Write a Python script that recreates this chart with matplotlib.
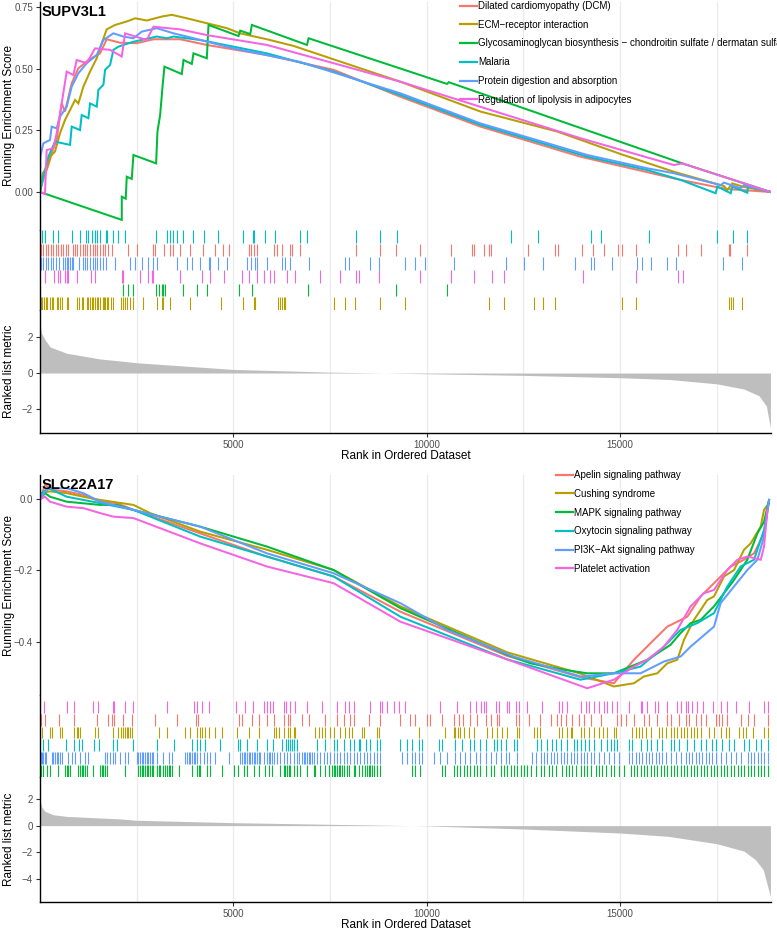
import matplotlib
matplotlib.use("Agg")
import matplotlib.pyplot as plt
from matplotlib.lines import Line2D

plt.rcParams['font.family'] = ['Liberation Sans', 'DejaVu Sans']

N_GENES = 18900
PAL = ["#F8766D", "#B79F00", "#00BA38", "#00BFC4", "#619CFF", "#F564E3"]

# ---------------------------------------------------------------
# SUPV3L1 : running enrichment scores (rank, ES vertices)

top_names = ["Dilated cardiomyopathy (DCM)", "ECM\u2212receptor interaction",
             "Glycosaminoglycan biosynthesis \u2212 chondroitin sulfate / dermatan sulfate",
             "Malaria", "Protein digestion and absorption",
             "Regulation of lipolysis in adipocytes"]

dcm_rank = [0, 69, 216, 345, 431, 561, 647, 820, 992, 1251, 1553, 1725, 2071, 2502, 2933,
            3623, 4313, 5866, 7592, 9317, 11387, 13975, 16563, 17426, 17771, 18893]
dcm_es = [0, 0.042, 0.109, 0.177, 0.211, 0.359, 0.326, 0.441, 0.501, 0.535, 0.562, 0.619,
          0.605, 0.603, 0.619, 0.619, 0.596, 0.555, 0.495, 0.386, 0.265, 0.143, 0.049,
          0.022, 0.012, 0]

ecm_rank = [0, 69, 173, 259, 388, 518, 647, 776, 906, 992, 1122, 1294, 1467, 1596, 1725,
            1941, 2243, 2459, 2761, 3149, 3408, 3796, 4313, 4831, 5176, 5866, 6556, 9317,
            11387, 13371, 15010, 16390, 17685, 17771, 17900, 18159, 18893]
ecm_es = [0, 0.076, 0.096, 0.143, 0.164, 0.238, 0.292, 0.332, 0.373, 0.359, 0.427, 0.488,
          0.542, 0.603, 0.659, 0.677, 0.691, 0.704, 0.695, 0.711, 0.718, 0.704, 0.684,
          0.664, 0.643, 0.619, 0.592, 0.447, 0.326, 0.245, 0.154, 0.082, 0.024, 0.008,
          0.035, 0.022, 0]

glyco_rank = [0, 2114, 2114, 2217, 2243, 2372, 2416, 3002, 3037, 3106, 3175, 3218, 3666,
              3710, 3925, 3968, 4313, 4357, 5133, 5176, 5435, 5478, 6902, 6945, 10524,
              10568, 16606, 18893]
glyco_es = [0, -0.113, -0.019, -0.027, 0.062, 0.053, 0.15, 0.116, 0.245, 0.312, 0.44,
            0.508, 0.478, 0.535, 0.519, 0.562, 0.542, 0.677, 0.632, 0.654, 0.64, 0.677,
            0.596, 0.623, 0.438, 0.445, 0.116, 0]

malaria_rank = [0, 86, 216, 388, 776, 820, 1035, 1078, 1251, 1294, 1467, 1510, 1639, 1682,
                1812, 1898, 2027, 2157, 2416, 3020, 3278, 3451, 4141, 5866, 7592, 9317,
                11387, 14148, 15700, 16563, 17469, 17512, 17857, 17900, 18288, 18306, 18893]
malaria_es = [0, 0.062, 0.143, 0.204, 0.191, 0.265, 0.251, 0.312, 0.299, 0.359, 0.346,
              0.414, 0.434, 0.495, 0.515, 0.576, 0.589, 0.596, 0.609, 0.63, 0.623, 0.63,
              0.616, 0.562, 0.488, 0.393, 0.272, 0.143, 0.089, 0.049, -0.005, 0.022,
              -0.005, 0.022, -0.003, 0.022, 0]

protein_rank = [0, 9, 86, 259, 302, 431, 518, 690, 820, 992, 1208, 1467, 1639, 1898, 2157,
                2416, 2631, 3020, 3451, 3796, 5004, 6729, 9317, 11387, 14148, 15700, 16390,
                17598, 17685, 18116, 18202, 18893]
protein_es = [0, 0.143, 0.197, 0.211, 0.265, 0.258, 0.305, 0.346, 0.427, 0.481, 0.522,
              0.555, 0.616, 0.643, 0.63, 0.623, 0.65, 0.664, 0.643, 0.63, 0.582, 0.527,
              0.4, 0.278, 0.15, 0.096, 0.076, 0.028, 0.038, 0.015, 0.028, 0]

lipo_rank = [0, 129, 173, 345, 431, 561, 690, 863, 949, 1208, 1423, 1812, 2114, 2200, 2761,
             2933, 3623, 4313, 5866, 7592, 9317, 13975, 16390, 16606, 18893]
lipo_es = [0, -0.008, 0.17, 0.177, 0.238, 0.359, 0.488, 0.474, 0.535, 0.522, 0.582, 0.576,
           0.549, 0.643, 0.616, 0.67, 0.659, 0.636, 0.596, 0.522, 0.447, 0.218, 0.109,
           0.116, 0]

# SUPV3L1 : gene hit positions (rug)
malaria_hits = [43, 129, 345, 474, 820, 1035, 1191, 1251, 1337, 1423, 1467, 1553, 1708, 1743,
                1898, 2027, 2200, 3002, 3278, 3365, 3451, 3537, 3710, 3968, 4253, 4615, 5245,
                5504, 5538, 5823, 6082, 6729, 6902, 8178, 8782, 9231, 12189, 12871, 14234,
                14510, 15752, 17512, 17927, 18289]
dcm_hits = [17, 86, 155, 216, 276, 345, 414, 474, 535, 604, 673, 733, 845, 906, 966, 1035,
            1104, 1165, 1225, 1294, 1363, 1423, 1484, 1553, 1622, 1691, 1769, 1855, 2286,
            2502, 2933, 2976, 3209, 3365, 3451, 3623, 3882, 4227, 4529, 4728, 4874, 5392,
            5452, 5521, 5608, 6039, 6125, 6255, 6453, 6513, 6729, 8178, 8800, 9213, 9817,
            10628, 11171, 11232, 11491, 11603, 11672, 12621, 13311, 13397, 14001, 14294,
            14579, 14950, 15036, 15399, 16503, 16693, 17081, 17814, 17840, 18289]
protein_hits = [17, 69, 155, 216, 276, 345, 414, 500, 587, 647, 690, 733, 776, 820, 863, 1018,
                1104, 1165, 1225, 1294, 1363, 1423, 1484, 1553, 1639, 1708, 1941, 2329, 2459,
                2631, 2804, 2933, 3019, 3537, 3796, 3925, 4141, 4357, 4400, 4615, 4831, 5352,
                5452, 5564, 5608, 5866, 6255, 6341, 6470, 6945, 7894, 7980, 8541, 8756, 9446,
                9705, 9964, 10714, 12051, 12526, 13009, 13820, 14234, 14320, 14795, 15425,
                15554, 15787, 16218, 16434, 17667, 18159]
lipo_hits = [129, 362, 474, 518, 647, 690, 733, 949, 1311, 1423, 2114, 2157, 2588, 2804, 2890,
             2933, 3623, 4184, 4400, 4745, 5219, 5392, 5608, 5780, 5935, 6039, 6384, 6600,
             7247, 7764, 8178, 8239, 8756, 9817, 10628, 11232, 11689, 11991, 14044, 15399,
             16503, 16632]
glyco_hits = [2140, 2286, 2398, 3002, 3088, 3149, 3192, 3235, 3692, 4055, 4313, 5133, 5478,
              6919, 9213, 10524]
ecm_hits = [17, 60, 104, 147, 190, 259, 302, 345, 431, 474, 518, 561, 690, 733, 966, 1018,
            1078, 1122, 1208, 1251, 1294, 1337, 1380, 1423, 1467, 1510, 1553, 1622, 1656,
            1691, 1725, 1769, 1829, 1898, 2088, 2140, 2200, 2260, 2329, 2416, 2657, 3019,
            3149, 3192, 3365, 3882, 4684, 5245, 5521, 5564, 6142, 6211, 6255, 6298, 6341,
            7592, 7894, 8153, 8800, 9446, 11603, 12008, 12785, 13009, 13311, 15054, 15399,
            17814, 17857, 17918, 18159]

top_metric_rank = [0, 40, 130, 259, 690, 1553, 2070, 2500, 5000, 7500, 10000, 12500, 15000,
                   16280, 17500, 18200, 18590, 18780, 18885]
top_metric_val = [2.67, 2.2, 1.85, 1.45, 1.1, 0.78, 0.67, 0.57, 0.2, 0.05, -0.04, -0.13,
                  -0.26, -0.36, -0.6, -0.89, -1.26, -1.83, -3.05]

# ---------------------------------------------------------------
# SLC22A17

bot_names = ["Apelin signaling pathway", "Cushing syndrome", "MAPK signaling pathway",
             "Oxytocin signaling pathway", "PI3K\u2212Akt signaling pathway",
             "Platelet activation"]

apelin_rank = [0, 129, 345, 690, 1122, 1553, 1984, 2416, 4141, 5866, 7592, 9317, 12077,
               13975, 14838, 15356, 15873, 16218, 16736, 17081, 17426, 17857, 18202, 18461,
               18720, 18850]
apelin_es = [0, 0.04, 0.026, 0.022, 0.012, -0.007, -0.011, -0.03, -0.096, -0.161, -0.217,
             -0.316, -0.44, -0.5, -0.517, -0.451, -0.395, -0.358, -0.33, -0.273, -0.236,
             -0.189, -0.17, -0.152, -0.096, -0.002]

cushing_rank = [0, 259, 690, 1122, 1553, 2416, 2847, 4141, 5866, 7592, 9317, 12077, 13975,
                14838, 15356, 15614, 15960, 16218, 16477, 16650, 16908, 17254, 17426, 17685,
                17944, 18202, 18375, 18634, 18720, 18850]
cushing_es = [0.017, 0.022, 0.017, 0.007, -0.002, -0.016, -0.039, -0.091, -0.142, -0.199,
              -0.301, -0.43, -0.49, -0.526, -0.517, -0.498, -0.489, -0.461, -0.451, -0.395,
              -0.339, -0.283, -0.273, -0.217, -0.199, -0.142, -0.124, -0.077, -0.03, -0.011]

mapk_rank = [0, 129, 259, 690, 1553, 1984, 2416, 4141, 5866, 7592, 9317, 12077, 12681,
             13544, 14148, 14838, 15269, 15701, 15960, 16304, 16563, 16822, 17081, 17426,
             17685, 17944, 18288, 18548, 18720, 18850]
mapk_es = [0, 0.017, 0.007, -0.007, -0.016, -0.016, -0.03, -0.077, -0.133, -0.199, -0.306,
           -0.437, -0.461, -0.479, -0.489, -0.489, -0.47, -0.451, -0.433, -0.409, -0.376,
           -0.348, -0.339, -0.301, -0.264, -0.227, -0.17, -0.096, -0.063, -0.002]

oxy_rank = [0, 43, 216, 690, 1553, 2416, 4141, 5866, 7592, 9317, 12077, 13975, 14838,
            15528, 16046, 16563, 16995, 17426, 17771, 18116, 18461, 18720, 18850]
oxy_es = [0, 0.017, 0.031, 0.007, -0.011, -0.03, -0.105, -0.161, -0.217, -0.33, -0.45,
          -0.507, -0.489, -0.47, -0.423, -0.367, -0.348, -0.32, -0.245, -0.189, -0.17,
          -0.086, -0.002]

pi3k_rank = [0, 129, 259, 690, 1122, 1553, 2416, 4141, 5866, 7592, 9317, 10524, 12250,
             13113, 13975, 14838, 15528, 16132, 16563, 16822, 17426, 17598, 17944, 18288,
             18548, 18720, 18850]
pi3k_es = [0, 0.022, 0.031, 0.031, 0.017, -0.007, -0.03, -0.077, -0.152, -0.208, -0.292,
           -0.367, -0.442, -0.47, -0.498, -0.489, -0.489, -0.456, -0.442, -0.414, -0.358,
           -0.292, -0.245, -0.199, -0.17, -0.105, -0.002]

platelet_rank = [0, 129, 259, 690, 1122, 1553, 1898, 2416, 4141, 5866, 7592, 9317, 12077,
                 14148, 14838, 15356, 15701, 16132, 16477, 16822, 17168, 17426, 17771,
                 18030, 18288, 18634, 18720, 18806]
platelet_es = [0, 0.007, -0.007, -0.021, -0.025, -0.039, -0.049, -0.053, -0.124, -0.189,
               -0.236, -0.344, -0.45, -0.531, -0.507, -0.47, -0.451, -0.414, -0.367, -0.301,
               -0.264, -0.255, -0.199, -0.17, -0.161, -0.17, -0.133, -0.03]

platelet_hits = [104, 690, 880, 1381, 1510, 1881, 1916, 2200, 2399, 3279, 3987, 4056, 4186,
                 4358, 5074, 5307, 5506, 5782, 5868, 5937, 6024, 6300, 6369, 6455, 6602, 6904,
                 7292, 7681, 7896, 7983, 8112, 8544, 8785, 8846, 8975, 9148, 9277, 9447,
                 10353, 10785, 11113, 11260, 11406, 11475, 11544, 11777, 11864, 12079, 12123,
                 12295, 12381, 12597, 12968, 13417, 13503, 13633, 13978, 14107, 14194, 14323,
                 14453, 14582, 14668, 14798, 14927, 15229, 15531, 15575, 15704, 15894, 15980,
                 16204, 16480, 16567, 16696, 16757, 16869, 16999, 17154, 17413, 17620, 17775,
                 17991, 18336, 18725, 18811]
apelin_hits = [17, 129, 501, 880, 1467, 1769, 1855, 1916, 2158, 2373, 2977, 3538, 4039, 4073,
               5135, 5221, 5480, 5653, 5868, 6041, 6300, 6403, 6455, 6775, 6947, 7379, 7681,
               7853, 8009, 8112, 8501, 8803, 9318, 9577, 9706, 10008, 10095, 10397, 10699,
               10828, 10940, 11130, 11303, 11519, 11648, 11803, 11864, 12295, 12381, 12640,
               12925, 13201, 13374, 13460, 13590, 13762, 13935, 14064, 14254, 14496, 14927,
               15014, 15143, 15359, 15618, 15747, 15963, 16222, 16308, 16524, 16696, 16783,
               16955, 17085, 17214, 17473, 17559, 17646, 17775, 18120, 18293, 18466, 18811]
cushing_hits = [43, 259, 302, 518, 561, 880, 949, 992, 1036, 1424, 1510, 1899, 2028, 2088,
                2140, 2201, 2244, 2287, 2330, 2373, 3064, 3279, 3754, 3884, 4056, 4142, 4186,
                4272, 4358, 4531, 4703, 5092, 5394, 5653, 6058, 6110, 6170, 6300, 6403, 6455,
                6559, 6602, 7120, 7206, 7292, 7379, 7508, 7594, 7767, 7896, 7983, 8069, 8328,
                8371, 8716, 8760, 9792, 10483, 10699, 10742, 10802, 10871, 10958, 11087,
                11216, 11562, 11691, 11821, 11950, 12079, 12338, 12381, 12770, 12839, 12925,
                13417, 13503, 13633, 13719, 13762, 13978, 14064, 14194, 14323, 14453, 14565,
                14668, 14841, 14884, 15316, 15402, 15488, 15575, 15661, 15790, 16006, 16092,
                16179, 16308, 16394, 16481, 16567, 16653, 16740, 16826, 16912, 16999, 17085,
                17301, 17430, 17603, 17732, 17818, 18077, 18164, 18250, 18422, 18725, 18811]
oxy_hits = [86, 216, 673, 880, 1018, 1079, 1398, 1536, 1899, 1985, 2416, 3021, 3452, 3927,
            4056, 4142, 4272, 4660, 5109, 5178, 5351, 5610, 5868, 6024, 6257, 6369, 6403, 6455,
            6516, 6559, 6645, 7163, 7379, 7594, 7681, 7853, 8026, 8112, 8242, 8285, 8440, 8544,
            8716, 8803, 9318, 9490, 9620, 9792, 9879, 10310, 10397, 10742, 10914, 11130, 11216,
            11389, 11519, 11734, 11821, 11907, 12036, 12252, 12338, 12856, 12942, 13115, 13244,
            13331, 13460, 13633, 13805, 13892, 13978, 14082, 14194, 14323, 14496, 14668, 14755,
            14841, 14927, 15229, 15316, 15531, 15704, 15790, 15963, 16092, 16308, 16394, 16524,
            16740, 16912, 17085, 17214, 17387, 17473, 17646, 17818, 17948, 18207, 18336, 18509,
            18638, 18811]
pi3k_hits = [5, 30, 60, 90, 120, 150, 302, 345, 388, 431, 474, 518, 561, 733, 820, 906, 1036,
             1165, 1251, 1683, 1743, 1812, 1899, 1942, 2071, 2201, 2287, 2503, 2546, 2589,
             2632, 2675, 2718, 2761, 2805, 2848, 2891, 2934, 3020, 3193, 3323, 3409, 3754,
             3797, 3840, 3884, 3927, 3970, 4013, 4056, 4142, 4229, 4315, 4401, 4531, 4876,
             5178, 5221, 5264, 5307, 5351, 5394, 5437, 5480, 5523, 5567, 5610, 5653, 5696,
             5782, 5868, 5912, 5955, 5998, 6041, 6127, 6214, 6300, 6386, 6473, 6559, 6645,
             6688, 6775, 6818, 6861, 6904, 6947, 6990, 7033, 7077, 7163, 7249, 7336, 7422,
             7508, 7594, 7681, 7767, 7853, 7940, 8026, 8112, 8199, 8285, 8371, 8457, 8544,
             8630, 8716, 8803, 9361, 9490, 9620, 9706, 9792, 9879, 10181, 10353, 10526, 10742,
             10871, 11001, 11130, 11260, 11389, 11519, 11648, 11777, 11907, 12036, 12123,
             12338, 12727, 12813, 12942, 13029, 13115, 13201, 13288, 13374, 13460, 13547,
             13633, 13719, 13805, 13892, 13978, 14064, 14151, 14237, 14323, 14453, 14582,
             14712, 14841, 14970, 15229, 15316, 15402, 15488, 15575, 15661, 15747, 15833,
             15920, 16006, 16092, 16179, 16308, 16438, 16567, 16696, 16783, 16869, 16955,
             17042, 17128, 17214, 17301, 17387, 17473, 17603, 17732, 17862, 17991, 18120,
             18293, 18379, 18466, 18552, 18638, 18725, 18811, 18897]
mapk_hits = [17, 69, 173, 259, 474, 647, 690, 733, 777, 992, 1036, 1079, 1122, 1165, 1225,
             1381, 1553, 1597, 1640, 1683, 1726, 2201, 2546, 2589, 2632, 2675, 2718, 2761,
             2805, 2848, 2891, 2934, 3020, 3064, 3107, 3193, 3236, 3279, 3323, 3366, 3409,
             3581, 3927, 4056, 4099, 4142, 4315, 4401, 4703, 5005, 5109, 5264, 5351, 5523,
             5653, 5825, 5912, 5998, 6214, 6300, 6343, 6386, 6429, 6473, 6559, 6645, 6731,
             6904, 7077, 7120, 7249, 7379, 7465, 7551, 7594, 7638, 7681, 7724, 7767, 7810,
             7853, 7940, 7983, 8112, 8155, 8242, 8328, 8414, 8457, 8501, 8544, 8587, 8630,
             8716, 8803, 9620, 9706, 9836, 10397, 10483, 10699, 10785, 10871, 10958, 11044,
             11130, 11216, 11303, 11389, 11519, 11648, 11734, 11907, 11993, 12079, 12166,
             12252, 12338, 12425, 12511, 12597, 12684, 12813, 12942, 13029, 13158, 13244,
             13331, 13503, 13590, 13676, 13762, 13849, 13978, 14064, 14151, 14237, 14366,
             14453, 14539, 14625, 14755, 14841, 14970, 15100, 15273, 15359, 15445, 15531,
             15618, 15704, 15790, 15877, 15963, 16049, 16136, 16222, 16308, 16394, 16481,
             16567, 16653, 16740, 16826, 16912, 16999, 17085, 17171, 17257, 17344, 17430,
             17516, 17603, 17689, 17775, 17862, 17948, 18034, 18120, 18207, 18293, 18379,
             18466, 18552, 18638, 18725, 18811, 18897]

bot_metric_rank = [0, 43, 130, 345, 690, 1553, 2070, 2500, 5000, 7500, 10000, 12500, 15000,
                   16250, 17500, 18200, 18500, 18700, 18885]
bot_metric_val = [1.93, 1.4, 1.06, 0.81, 0.69, 0.57, 0.5, 0.4, 0.22, 0.1, -0.02, -0.25,
                  -0.55, -0.8, -1.35, -1.9, -2.55, -3.3, -5.3]

# ---------------------------------------------------------------

FIG_W, FIG_H = 777, 930
fig = plt.figure(figsize=(FIG_W / 100, FIG_H / 100), dpi=100)
X0, X1 = 40, 771
TICK_COL = "#4D4D4D"
GRID_COL = "#EBEBEB"


def add_ax(top, bottom):
    return fig.add_axes([X0 / FIG_W, 1 - bottom / FIG_H, (X1 - X0) / FIG_W, (bottom - top) / FIG_H])


def base_style(ax, show_x):
    ax.set_xlim(0, N_GENES)
    ax.set_xticks([5000, 10000, 15000])
    ax.set_xticks([2500, 7500, 12500, 17500], minor=True)
    ax.grid(axis='x', which='both', color=GRID_COL, lw=0.9)
    ax.set_axisbelow(True)
    for s in ['top', 'right']:
        ax.spines[s].set_visible(False)
    ax.spines['left'].set_linewidth(1.0)
    ax.spines['bottom'].set_visible(show_x)
    ax.spines['bottom'].set_linewidth(1.0)
    ax.tick_params(axis='x', which='minor', length=0)
    ax.tick_params(axis='x', which='major', bottom=show_x, labelbottom=show_x, length=3,
                   width=0.8, color='#333333', labelsize=7, labelcolor=TICK_COL, pad=2)
    ax.tick_params(axis='y', length=3, width=0.8, color='#333333', labelsize=7,
                   labelcolor=TICK_COL, pad=2)


def draw_panel(tops, title, title_y, names, curves, hits, rug_order, ylim_es, yticks_es,
               ytick_labels, metric_rank, metric_val, ylim_metric, yticks_metric, rug_ylim,
               leg_xy):
    t_es, t_rug, t_met, t_end = tops
    ax_es = add_ax(t_es, t_rug)
    ax_rug = add_ax(t_rug, t_met)
    ax_met = add_ax(t_met, t_end)

    base_style(ax_es, False)
    for (rk, es), col in zip(curves, PAL):
        ax_es.plot(rk, es, color=col, lw=1.45, solid_joinstyle='miter')
    ax_es.set_ylim(*ylim_es)
    ax_es.set_yticks(yticks_es)
    ax_es.set_yticklabels(ytick_labels)
    ax_es.set_ylabel("Running Enrichment Score", fontsize=8.5)

    base_style(ax_rug, False)
    ax_rug.set_yticks([])
    for row, idx in enumerate(rug_order):
        y_hi = 6 - row
        ax_rug.vlines(hits[idx], y_hi - 0.97, y_hi - 0.03, color=PAL[idx], lw=0.8)
    ax_rug.set_ylim(*rug_ylim)

    base_style(ax_met, True)
    ax_met.fill_between(metric_rank, 0, metric_val, color='#BEBEBE', lw=0)
    ax_met.set_ylim(*ylim_metric)
    ax_met.set_yticks(yticks_metric)
    ax_met.set_yticklabels([str(v).replace('-', '\u2212') for v in yticks_metric])
    ax_met.set_ylabel("Ranked list metric", fontsize=8.5)
    ax_met.set_xlabel("Rank in Ordered Dataset", fontsize=8.5, labelpad=0)

    # y labels: right edge of the rotated text at ~15 px from the figure edge
    for a in (ax_es, ax_met):
        a.yaxis.set_label_coords(-(X0 - 15) / (X1 - X0), 0.5)

    fig.text((X0 + 2) / FIG_W, 1 - title_y / FIG_H, title, fontsize=10.5,
             fontweight='bold', va='center', ha='left')

    handles = [Line2D([], [], color=c, lw=1.6) for c in PAL]
    fig.legend(handles, names, loc='upper left',
               bbox_to_anchor=(leg_xy[0] / FIG_W, 1 - leg_xy[1] / FIG_H),
               frameon=False, fontsize=7, handlelength=1.75, handletextpad=0.15,
               labelspacing=0.9, borderpad=0, borderaxespad=0)


top_curves = [(dcm_rank, dcm_es), (ecm_rank, ecm_es), (glyco_rank, glyco_es),
              (malaria_rank, malaria_es), (protein_rank, protein_es), (lipo_rank, lipo_es)]
top_hits = [dcm_hits, ecm_hits, glyco_hits, malaria_hits, protein_hits, lipo_hits]

draw_panel((2, 230, 310, 433), "SUPV3L1", 12, top_names, top_curves, top_hits,
           [3, 0, 4, 5, 2, 1], (-0.154, 0.77), [0, 0.25, 0.5, 0.75],
           ["0.00", "0.25", "0.50", "0.75"], top_metric_rank, top_metric_val,
           (-3.33, 3.5), [-2, 0, 2], (0, 6), (460, 1))

bot_curves = [(apelin_rank, apelin_es), (cushing_rank, cushing_es), (mapk_rank, mapk_es),
              (oxy_rank, oxy_es), (pi3k_rank, pi3k_es), (platelet_rank, platelet_es)]
bot_hits = [apelin_hits, cushing_hits, mapk_hits, oxy_hits, pi3k_hits, platelet_hits]

draw_panel((475, 695, 777, 902), "SLC22A17", 485, bot_names, bot_curves, bot_hits,
           [5, 0, 1, 3, 4, 2], (-0.55, 0.068), [-0.4, -0.2, 0.0],
           ["\u22120.4", "\u22120.2", "0.0"], bot_metric_rank, bot_metric_val,
           (-5.7, 3.63), [-4, -2, 0, 2], (0, 6.45), (556, 470))

fig.savefig("out.png", dpi=100)
